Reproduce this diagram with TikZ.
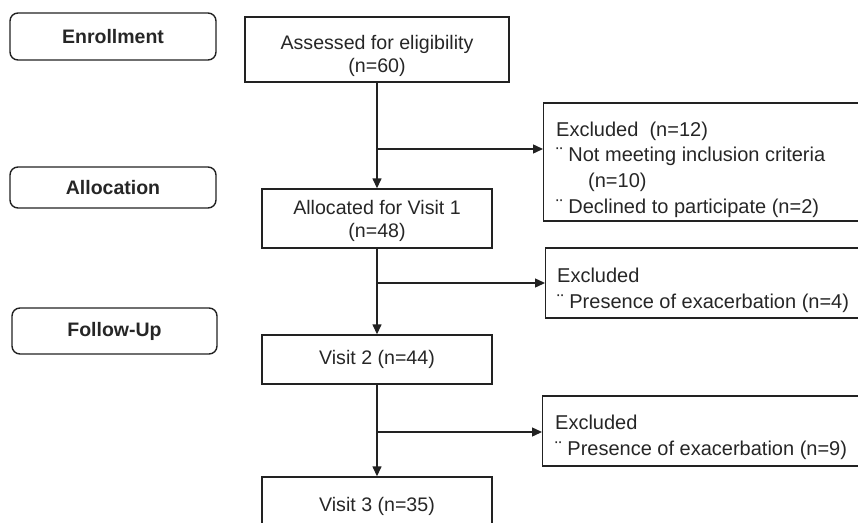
\documentclass[tikz,border=0pt]{standalone}
\usepackage{fontspec}
\setmainfont{Liberation Sans}
\usetikzlibrary{arrows.meta}
\definecolor{ink}{HTML}{222222}
\definecolor{txt}{HTML}{262626}
\begin{document}
\begin{tikzpicture}[x=1pt,y=-1pt,
  every node/.style={text=txt,font=\fontsize{19.6}{23}\selectfont},
  stage/.style={draw=ink,line width=1.4pt,rounded corners=8pt,minimum width=206pt,inner sep=0pt,font=\fontsize{19.5}{23}\selectfont\bfseries},
  flowbox/.style={draw=ink,line width=1.4pt,minimum width=230pt,inner sep=0pt},
  flowtext/.style={inner sep=0pt,align=center},
  exbox/.style={draw=ink,line width=1.4pt,anchor=west,minimum width=330pt,inner sep=0pt},
  extext/.style={anchor=west,inner sep=0pt,align=left,font=\fontsize{20}{25.7}\selectfont},
  arr/.style={draw=ink,line width=1.4pt,-{Triangle[length=10pt,width=9pt]}}]
\clip (0,0) rectangle (858,522);
% stage labels
\node[stage,minimum height=47pt] (enr) at (113,36.5) {Enrollment};
\node[stage,minimum height=41pt] (alo) at (113,187.5) {Allocation};
\node[stage,minimum height=46pt,minimum width=205pt] (fol) at (114.5,331) {Follow-Up};
% main flow
\node[flowbox,minimum width=264pt,minimum height=65pt] (ass) at (377,49.5) {};
\node[flowtext] (asst) at (377,56) {Assessed for eligibility\\(n=60)};
\node[flowbox,minimum height=59pt] (all) at (377,218.5) {};
\node[flowtext] (allt) at (377,220.5) {Allocated for Visit 1\\(n=48)};
\node[flowbox,minimum height=49pt] (v2) at (377,359.5) {Visit 2 (n=44)};
\node[flowbox,minimum height=58pt] (v3) at (377,506) {Visit 3 (n=35)};
% exclusion boxes
\node[exbox,minimum height=118pt] (ex1) at (543,162) {};
\node[extext] (ex1t) at (556,169.5) {Excluded\ \ (n=12)\\¨ Not meeting inclusion criteria\\\hspace{32pt}(n=10)\\¨ Declined to participate (n=2)};
\node[exbox,minimum height=70pt] (ex2) at (545,283) {};
\node[extext] (ex2t) at (557,290) {Excluded\\¨ Presence of exacerbation (n=4)};
\node[exbox,minimum height=70pt] (ex3) at (542,431) {};
\node[extext] (ex3t) at (555,437.5) {Excluded\\¨ Presence of exacerbation (n=9)};
% connectors
\draw[arr] (ass.south) -- (all.north);
\draw[arr] (all.south) -- (v2.north);
\draw[arr] (v2.south) -- (v3.north);
\coordinate (b1) at (377,149);
\coordinate (b2) at (377,283);
\coordinate (b3) at (377,432);
\draw[arr] (b1) -- (b1 -| ex1.west);
\draw[arr] (b2) -- (b2 -| ex2.west);
\draw[arr] (b3) -- (b3 -| ex3.west);
\end{tikzpicture}
\end{document}
